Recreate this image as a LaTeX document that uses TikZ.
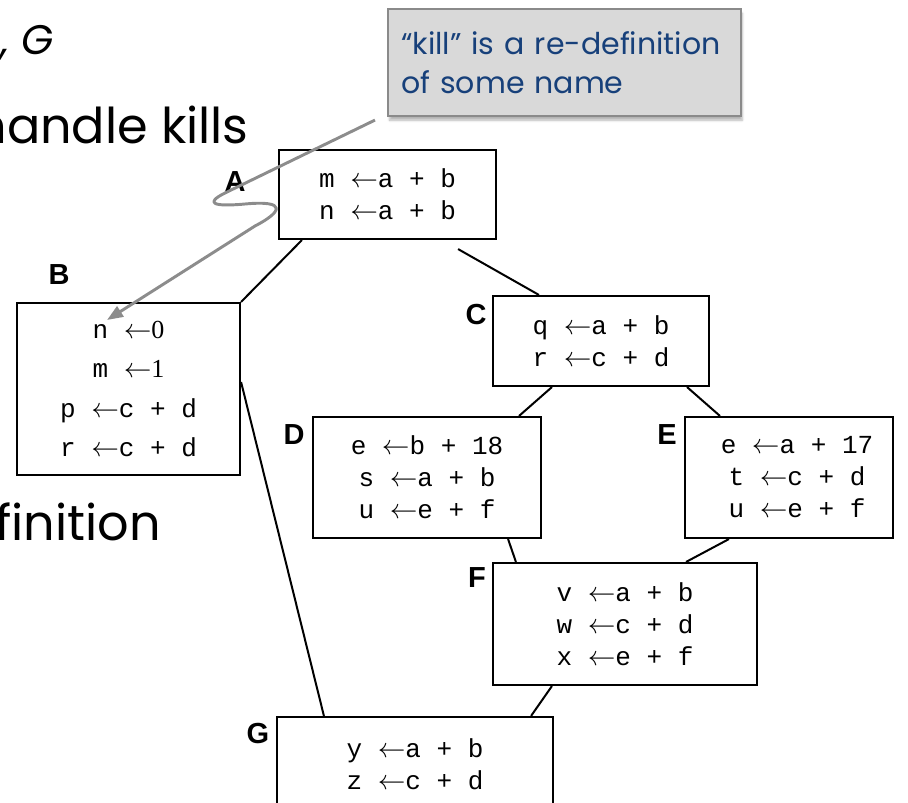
\documentclass[tikz,border=0pt]{standalone}
\usepackage{fontspec}
\setmonofont{Liberation Mono}
\newfontfamily\labelfont{Liberation Sans}
\newfontfamily\digitfont{Liberation Serif}
\newfontfamily\handfont{Poppins}
\usetikzlibrary{shadows.blur,arrows.meta}
\definecolor{calloutfill}{HTML}{D9D9D9}
\definecolor{calloutedge}{HTML}{8A8A8A}
\definecolor{callouttext}{HTML}{17407A}
\definecolor{pointer}{HTML}{8C8C8C}
\tikzset{
  block/.style={draw, line width=1.6pt, inner sep=0pt, align=center,
    font=\ttfamily\fontsize{19.5}{24}\selectfont},
  blocklabel/.style={font=\labelfont\bfseries\fontsize{21.75}{24}\selectfont, inner sep=0pt},
  edge/.style={line width=1.5pt},
  handtext/.style={font=\handfont\fontsize{37}{40}\selectfont, inner sep=0pt},
  calloutbox/.style={draw=calloutedge, fill=calloutfill, line width=1.8pt,
    blur shadow={shadow xshift=1pt, shadow yshift=-3pt, shadow opacity=30, shadow blur steps=6},
    inner xsep=9.75pt, text width=245pt, align=left, text=callouttext,
    font=\handfont\fontsize{22.5}{29.25}\selectfont},
  pointerline/.style={draw=pointer, line width=2.2pt, line join=round,
    -{Triangle[length=12pt,width=9pt]}}
}
\newcommand{\la}{$\leftarrow$}
\newcommand{\dg}[1]{{\digitfont #1}}
\begin{document}
\begin{tikzpicture}[x=0.75pt, y=-0.75pt]
\useasboundingbox (0,0) rectangle (908,803);
\clip (0,0) rectangle (908,803);

% partial bullet text on the left
\node[handtext, font=\handfont\itshape\fontsize{31}{34}\selectfont, anchor=base east] (tg) at (54,55) {, G};
\node[handtext, anchor=base east] (tk) at (249,143) {handle kills};
\node[handtext, anchor=base east] (tf) at (161,540) {finition};

% basic blocks
\node[block, minimum width=162.75pt, minimum height=66.75pt] (A) at (387.5,194.5)
  {m \la a + b\\ n \la a + b};
\node[block, minimum width=167.25pt, minimum height=129pt, font=\ttfamily\fontsize{19.5}{29.5}\selectfont] (B) at (128.5,389)
  {n \la\dg{0}\\ m \la\dg{1}\\ p \la c + d\\ r \la c + d};
\node[block, minimum width=162pt, minimum height=67.5pt] (C) at (601,341)
  {q \la a + b\\ r \la c + d};
\node[block, minimum width=171pt, minimum height=90.75pt] (D) at (427,477.5)
  {e \la b + 18\\ s \la a + b\\ u \la e + f};
\node[block, minimum width=156pt, minimum height=90.75pt] (E) at (789,477.5)
  {\hspace*{12pt}e \la a + 17\\ \hspace*{12pt}t \la c + d\\ \hspace*{12pt}u \la e + f};
\node[block, minimum width=198pt, minimum height=91.5pt] (F) at (625,624)
  {v \la a + b\\ w \la c + d\\ x \la e + f};
\node[block, minimum width=207pt, minimum height=71.25pt] (G) at (415,764.5)
  {y \la a + b\\ z \la c + d};

% block labels
\node[blocklabel] (lA) at (235,182) {A};
\node[blocklabel] (lB) at (59,275) {B};
\node[blocklabel] (lC) at (476,315) {C};
\node[blocklabel] (lD) at (294,435) {D};
\node[blocklabel] (lE) at (667,435) {E};
\node[blocklabel] (lF) at (477,578) {F};
\node[blocklabel] (lG) at (258,734) {G};

% control-flow edges
\draw[edge] ([xshift=18pt]A.south west) -- (B.north east);
\draw[edge] ([xshift=-29.25pt,yshift=-6.75pt]A.south east) -- ([xshift=35.25pt]C.north west);
\draw[edge] ([xshift=45pt]C.south west) -- ([xshift=-17.25pt]D.north east);
\draw[edge] ([xshift=-17.25pt]C.south east) -- ([xshift=27pt]E.north west);
\draw[edge] ([yshift=5.25pt]B.east) -- ([xshift=36pt]G.north west);
\draw[edge] ([xshift=-25.5pt]D.south east) -- ([xshift=18pt]F.north west);
\draw[edge] ([xshift=33.75pt]E.south west) -- ([xshift=-54pt]F.north east);
\draw[edge] ([xshift=45pt]F.south west) -- ([xshift=-17.25pt]G.north east);

% callout
\node[calloutbox, anchor=north west, minimum height=80.25pt] (note) at (387,8)
  {\textquotedblleft kill\textquotedblright{} is a re-definition\\ of some name};
\coordinate (tail) at ([xshift=-9pt,yshift=-2pt]note.south west);
\coordinate (tgt) at (107,320);
\draw[pointerline] (tail) -- (225,193)
  .. controls (205,203) and (212,207) .. (245,204)
  .. controls (288,200) and (282,212) .. (255,226) -- (tgt);
\end{tikzpicture}
\end{document}
